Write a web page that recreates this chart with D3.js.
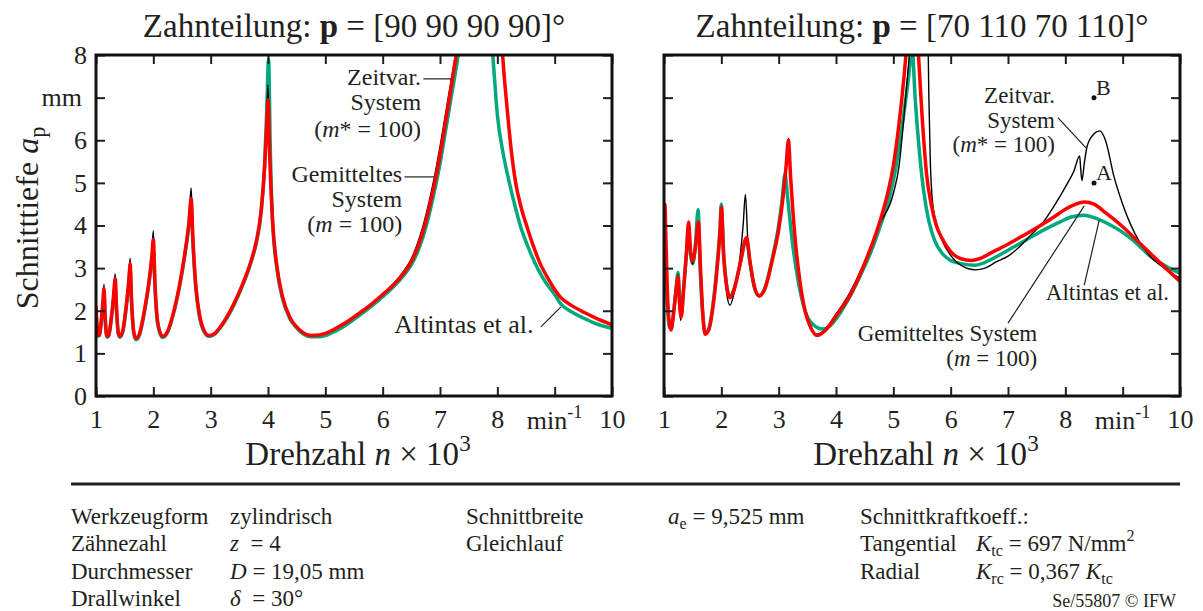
<!DOCTYPE html>
<html>
<head>
<meta charset="utf-8">
<script src="https://cdn.jsdelivr.net/npm/d3@7"></script>
<style>
  body { margin: 0; background: #fff; }
  text { font-family: "Liberation Serif", "Times New Roman", serif; fill: #231f20; white-space: pre; }
</style>
</head>
<body>
<script>
// tick values
var xTicks = [1, 2, 3, 4, 5, 6, 7, 8, 9, 10];
var yTicks = [0, 1, 2, 3, 4, 5, 6, 7, 8];
var pitches = ["90 90 90 90", "70 110 70 110"];

// left panel, p = [90 90 90 90]   [n x 10^3, a_p in mm]
var leftGreen = [[1.00,2.0],[1.015,1.65],[1.035,1.4],[1.06,1.42],[1.09,1.7],[1.12,2.1],[1.14,2.38],[1.16,1.8],[1.19,1.38],[1.22,1.4],[1.26,1.72],[1.30,2.2],[1.335,2.62],[1.36,1.95],[1.39,1.45],[1.42,1.38],[1.47,1.52],[1.53,2.1],[1.575,2.7],[1.595,2.98],[1.62,2.2],[1.66,1.45],[1.70,1.32],[1.76,1.44],[1.85,2.0],[1.93,2.7],[1.975,3.15],[2.0,3.4],[2.03,2.5],[2.08,1.65],[2.16,1.37],[2.25,1.5],[2.35,1.92],[2.45,2.52],[2.55,3.3],[2.62,4.0],[2.66,4.5],[2.69,3.6],[2.74,2.55],[2.8,1.9],[2.88,1.52],[2.97,1.40],[3.05,1.43],[3.2,1.66],[3.4,2.12],[3.55,2.57],[3.7,3.12],[3.8,3.62],[3.88,4.3],[3.94,5.4],[3.98,6.8],[4.01,7.9],[4.04,5.8],[4.08,4.1],[4.16,2.95],[4.25,2.3],[4.38,1.82],[4.5,1.6],[4.62,1.45],[4.75,1.39],[4.9,1.39],[5.0,1.42],[5.2,1.54],[5.4,1.7],[5.6,1.9],[5.8,2.1],[6.0,2.33],[6.2,2.58],[6.35,2.8],[6.5,3.08],[6.6,3.35],[6.7,3.72],[6.8,4.2],[6.9,4.78],[7.0,5.45],[7.1,6.25],[7.2,7.05],[7.3,7.85],[7.45,9.4],[7.7,11],[7.85,9.0],[7.92,8.0],[8.0,6.6],[8.1,5.7],[8.2,5.06],[8.3,4.5],[8.4,4.0],[8.55,3.45],[8.7,3.0],[8.85,2.65],[9.0,2.38],[9.1,2.17],[9.3,1.97],[9.5,1.83],[9.66,1.73],[10.0,1.59]];
var leftBlack = [[1.00,2.12],[1.015,1.7],[1.035,1.42],[1.06,1.44],[1.09,1.78],[1.12,2.25],[1.14,2.62],[1.16,1.85],[1.19,1.40],[1.22,1.42],[1.26,1.78],[1.30,2.35],[1.335,2.87],[1.36,2.0],[1.39,1.48],[1.42,1.40],[1.47,1.55],[1.53,2.2],[1.575,2.85],[1.595,3.23],[1.62,2.25],[1.66,1.5],[1.70,1.35],[1.76,1.47],[1.85,2.05],[1.93,2.8],[1.975,3.4],[2.0,3.88],[2.03,2.6],[2.08,1.7],[2.16,1.40],[2.25,1.52],[2.35,1.95],[2.45,2.55],[2.55,3.4],[2.62,4.15],[2.66,4.88],[2.69,3.7],[2.74,2.6],[2.8,1.95],[2.88,1.55],[2.97,1.42],[3.05,1.45],[3.2,1.68],[3.4,2.15],[3.55,2.6],[3.7,3.15],[3.8,3.68],[3.88,4.4],[3.94,5.45],[3.98,6.6],[4.0,7.3],[4.03,5.6],[4.08,4.1],[4.16,3.0],[4.25,2.35],[4.38,1.85],[4.5,1.62],[4.62,1.48],[4.75,1.42],[4.9,1.43],[5.0,1.47],[5.2,1.6],[5.4,1.76],[5.6,1.95],[5.8,2.15],[6.0,2.4],[6.2,2.65],[6.35,2.9],[6.5,3.22],[6.6,3.55],[6.7,3.97],[6.8,4.5],[6.9,5.12],[7.0,5.85],[7.1,6.65],[7.2,7.45],[7.28,8.1],[7.4,9.5],[7.7,11],[8.0,9.2],[8.08,8.2],[8.12,7.5],[8.16,6.9],[8.24,5.8],[8.32,5.0],[8.42,4.4],[8.52,3.96],[8.62,3.55],[8.75,3.1],[8.9,2.72],[9.0,2.5],[9.1,2.32],[9.3,2.12],[9.5,1.97],[9.7,1.84],[10.0,1.67]];
var leftRed = [[1.00,2.12],[1.015,1.7],[1.035,1.42],[1.06,1.44],[1.09,1.75],[1.12,2.2],[1.14,2.52],[1.16,1.85],[1.19,1.40],[1.22,1.42],[1.26,1.75],[1.30,2.25],[1.335,2.75],[1.36,2.0],[1.39,1.48],[1.42,1.40],[1.47,1.55],[1.53,2.15],[1.575,2.75],[1.595,3.1],[1.62,2.25],[1.66,1.5],[1.70,1.35],[1.76,1.47],[1.85,2.05],[1.93,2.75],[1.975,3.3],[2.0,3.67],[2.03,2.6],[2.08,1.7],[2.16,1.40],[2.25,1.52],[2.35,1.95],[2.45,2.55],[2.55,3.35],[2.62,4.05],[2.66,4.63],[2.69,3.7],[2.74,2.6],[2.8,1.95],[2.88,1.55],[2.97,1.42],[3.05,1.45],[3.2,1.68],[3.4,2.15],[3.55,2.6],[3.7,3.15],[3.8,3.65],[3.88,4.35],[3.94,5.35],[3.98,6.4],[4.0,6.95],[4.03,5.6],[4.08,4.1],[4.16,3.0],[4.25,2.35],[4.38,1.85],[4.5,1.62],[4.62,1.48],[4.75,1.42],[4.9,1.43],[5.0,1.47],[5.2,1.6],[5.4,1.76],[5.6,1.95],[5.8,2.15],[6.0,2.38],[6.2,2.62],[6.35,2.85],[6.5,3.15],[6.6,3.45],[6.7,3.85],[6.8,4.35],[6.9,4.95],[7.0,5.65],[7.1,6.45],[7.2,7.3],[7.3,8.15],[7.45,9.6],[7.7,11],[8.0,9.2],[8.08,8.2],[8.12,7.5],[8.16,6.9],[8.24,5.8],[8.32,5.0],[8.42,4.4],[8.52,3.96],[8.62,3.55],[8.75,3.1],[8.9,2.72],[9.0,2.5],[9.1,2.32],[9.3,2.12],[9.5,1.97],[9.7,1.84],[10.0,1.67]];

// right panel, p = [70 110 70 110]
var rightGreen = [[1.0,2.7],[1.02,3.2],[1.04,2.6],[1.07,1.9],[1.1,1.6],[1.13,1.6],[1.17,2.0],[1.21,2.5],[1.245,2.9],[1.27,2.3],[1.3,1.9],[1.34,2.5],[1.39,3.3],[1.43,3.95],[1.46,3.35],[1.5,3.1],[1.55,3.6],[1.595,4.37],[1.63,3.0],[1.68,1.85],[1.72,1.47],[1.78,1.57],[1.86,2.2],[1.94,3.3],[1.98,4.0],[2.0,4.5],[2.04,3.35],[2.09,2.62],[2.15,2.33],[2.22,2.5],[2.32,3.05],[2.44,3.65],[2.5,3.12],[2.58,2.53],[2.66,2.35],[2.75,2.5],[2.9,3.3],[3.0,4.0],[3.06,4.6],[3.11,5.2],[3.16,4.6],[3.24,3.6],[3.34,2.7],[3.46,2.0],[3.58,1.7],[3.77,1.57],[3.9,1.65],[4.05,1.9],[4.24,2.33],[4.45,2.9],[4.6,3.35],[4.8,4.1],[4.95,4.75],[5.05,5.4],[5.15,6.3],[5.25,7.3],[5.33,8.1],[5.38,7.0],[5.45,5.8],[5.53,4.8],[5.62,4.1],[5.72,3.65],[5.85,3.35],[6.0,3.18],[6.2,3.1],[6.43,3.07],[6.7,3.2],[7.0,3.42],[7.3,3.65],[7.6,3.88],[7.9,4.08],[8.1,4.2],[8.32,4.24],[8.55,4.16],[8.8,4.0],[9.0,3.84],[9.25,3.57],[9.48,3.28],[9.75,3.05],[10.0,2.88]];
var rightBlack = [[1.0,2.55],[1.02,3.0],[1.04,2.7],[1.07,2.0],[1.1,1.62],[1.13,1.62],[1.17,2.0],[1.21,2.5],[1.245,2.85],[1.27,2.1],[1.29,1.77],[1.34,2.5],[1.39,3.3],[1.43,3.75],[1.46,3.3],[1.5,3.1],[1.55,3.5],[1.6,4.05],[1.64,2.9],[1.68,1.85],[1.72,1.45],[1.78,1.55],[1.86,2.15],[1.94,3.2],[1.98,3.85],[2.0,4.4],[2.04,3.2],[2.09,2.45],[2.15,2.13],[2.22,2.4],[2.32,3.2],[2.38,4.0],[2.42,4.73],[2.46,3.7],[2.52,2.9],[2.58,2.5],[2.66,2.33],[2.75,2.48],[2.9,3.25],[3.0,3.9],[3.08,4.7],[3.13,5.45],[3.17,6.05],[3.21,5.1],[3.28,3.8],[3.36,2.8],[3.46,2.0],[3.56,1.62],[3.67,1.45],[3.8,1.55],[4.0,1.92],[4.24,2.42],[4.45,3.0],[4.6,3.5],[4.75,4.0],[5.0,4.75],[5.1,5.4],[5.18,6.47],[5.28,8.0],[5.4,9.5],[5.6,8.6],[5.62,7.0],[5.645,5.5],[5.68,4.6],[5.75,4.05],[5.85,3.65],[6.0,3.3],[6.2,3.05],[6.43,2.96],[6.6,3.0],[6.8,3.15],[7.0,3.28],[7.2,3.5],[7.4,3.78],[7.6,4.05],[7.8,4.45],[8.0,4.9],[8.15,5.28],[8.25,5.63],[8.27,5.3],[8.29,5.05],[8.33,5.45],[8.38,5.86],[8.5,6.15],[8.6,6.22],[8.7,6.0],[8.85,5.14],[9.0,4.5],[9.13,4.05],[9.3,3.6],[9.5,3.25],[9.75,2.98],[10.0,2.76]];
var rightRed = [[1.0,4.1],[1.015,4.5],[1.035,3.6],[1.06,2.4],[1.09,1.75],[1.12,1.55],[1.16,1.85],[1.2,2.35],[1.245,2.8],[1.27,2.2],[1.3,1.85],[1.34,2.45],[1.39,3.35],[1.43,4.08],[1.46,3.45],[1.5,3.16],[1.55,3.5],[1.6,4.08],[1.64,2.9],[1.68,1.85],[1.72,1.45],[1.78,1.55],[1.86,2.15],[1.94,3.2],[1.98,3.9],[2.0,4.43],[2.04,3.3],[2.09,2.6],[2.15,2.31],[2.22,2.48],[2.32,3.05],[2.44,3.72],[2.5,3.15],[2.58,2.55],[2.66,2.35],[2.75,2.48],[2.9,3.25],[3.0,3.9],[3.08,4.7],[3.13,5.4],[3.17,6.0],[3.21,5.1],[3.28,3.8],[3.36,2.8],[3.46,2.0],[3.56,1.6],[3.67,1.42],[3.8,1.52],[4.0,1.88],[4.24,2.35],[4.45,2.95],[4.6,3.45],[4.78,4.16],[4.9,4.75],[5.0,5.4],[5.1,6.4],[5.18,7.4],[5.24,8.3],[5.35,10],[5.43,8.2],[5.5,6.6],[5.58,5.2],[5.66,4.5],[5.75,4.0],[5.85,3.7],[5.95,3.48],[6.05,3.32],[6.18,3.22],[6.36,3.18],[6.5,3.22],[6.72,3.37],[7.0,3.56],[7.26,3.76],[7.53,3.97],[7.8,4.2],[8.0,4.38],[8.18,4.5],[8.33,4.55],[8.5,4.5],[8.7,4.3],[9.0,3.97],[9.25,3.65],[9.48,3.35],[9.75,3.0],[10.0,2.69]];

// marked points in the right panel
var markPoints = [{name: "B", n: 8.5, a: 7.0}, {name: "A", n: 8.5, a: 5.0}];

var colors = ["#00a87d", "#000", "#ff0000"];
var widths = [3.5, 1.4, 3.5];

var svg = d3.select("body").append("svg")
    .attr("width", 1203)
    .attr("height", 611);

var y = d3.scaleLinear().domain([0, 8]).range([396, 55]);

// text with italic / bold / sub / sup pieces
function rich(sel, parts, size) {
    var shift = 0;
    parts.forEach(function(p) {
        if (typeof p === "string") p = [p, ""];
        var st = p[1].split(" ");
        var ts = sel.append("tspan").text(p[0]);
        var target = 0;
        if (st.includes("sub")) { target = 0.22 * size; ts.attr("font-size", size * 0.7); }
        if (st.includes("sup")) { target = -0.42 * size; ts.attr("font-size", size * 0.7); }
        if (st.includes("i")) ts.style("font-style", "italic");
        if (st.includes("b")) ts.style("font-weight", "bold");
        if (target !== shift) ts.attr("dy", target - shift);
        shift = target;
    });
    return sel;
}

function label(g, x, yy, parts, size, anchor) {
    var t = g.append("text")
        .attr("x", x).attr("y", yy)
        .attr("font-size", size)
        .attr("text-anchor", anchor || "start");
    return rich(t, parts, size);
}

var panels = [
    {x0: 96, x1: 612, series: [leftGreen, leftBlack, leftRed], yLabels: true},
    {x0: 664, x1: 1180, series: [rightGreen, rightBlack, rightRed], yLabels: false}
];

panels.forEach(function(p, i) {
    var x = d3.scaleLinear().domain([1, 10]).range([p.x0, p.x1]);
    p.x = x;
    var g = svg.append("g");

    g.append("clipPath").attr("id", "clip" + i)
        .append("rect")
        .attr("x", p.x0).attr("y", y(8))
        .attr("width", p.x1 - p.x0).attr("height", y(0) - y(8));

    var line = d3.line()
        .x(function(d) { return x(d[0]); })
        .y(function(d) { return y(d[1]); })
        .curve(d3.curveMonotoneX);

    p.series.forEach(function(s, k) {
        g.append("path")
            .datum(s)
            .attr("d", line)
            .attr("clip-path", "url(#clip" + i + ")")
            .attr("fill", "none")
            .attr("stroke", colors[k])
            .attr("stroke-width", widths[k])
            .attr("stroke-linejoin", "round");
    });

    // axes, ticks pointing inwards
    var axB = g.append("g").attr("transform", "translate(0," + y(0) + ")")
        .call(d3.axisBottom(x).tickValues(xTicks).tickSize(-9).tickSizeOuter(0).tickPadding(14)
            .tickFormat(function(d) { return d === 9 ? "" : d; }));
    var axT = g.append("g").attr("transform", "translate(0," + y(8) + ")")
        .call(d3.axisTop(x).tickValues(xTicks).tickSize(-9).tickSizeOuter(0).tickFormat(""));
    var axL = g.append("g").attr("transform", "translate(" + p.x0 + ",0)")
        .call(d3.axisLeft(y).tickValues(yTicks).tickSize(-9).tickSizeOuter(0).tickPadding(9)
            .tickFormat(function(d) { return p.yLabels ? (d === 7 ? "mm" : d) : ""; }));
    var axR = g.append("g").attr("transform", "translate(" + p.x1 + ",0)")
        .call(d3.axisRight(y).tickValues(yTicks).tickSize(-9).tickSizeOuter(0).tickFormat(""));

    [axB, axT, axL, axR].forEach(function(a) {
        a.attr("font-family", null).attr("font-size", null);
        a.select(".domain").remove();
        a.selectAll("line").attr("stroke", "#231f20").attr("stroke-width", 2);
        a.selectAll("text").attr("font-size", 26).attr("fill", "#231f20");
    });
    axL.selectAll("text").filter(function(d) { return d === 7; }).attr("dx", -5);

    // min^-1 in place of the 9
    label(g, x(9), y(0) + 33, ["min", ["-1", "sup"]], 26, "middle");

    g.append("rect")
        .attr("x", p.x0).attr("y", y(8))
        .attr("width", p.x1 - p.x0).attr("height", y(0) - y(8))
        .attr("fill", "none")
        .attr("stroke", "#111")
        .attr("stroke-width", 3);

    var cx = (p.x0 + p.x1) / 2;
    label(g, cx, 37, ["Zahnteilung: ", ["p", "b"], " = [" + pitches[i] + "]°"], 33, "middle");
    label(g, cx + 4, 465, ["Drehzahl ", ["n", "i"], " × 10", ["3", "sup"]], 33, "middle");
});

// y axis title
var yt = svg.append("text")
    .attr("transform", "translate(38,218) rotate(-90)")
    .attr("font-size", 32)
    .attr("text-anchor", "middle");
rich(yt, ["Schnitttiefe ", ["a", "i"], ["p", "sub"]], 32);

function leader(g, x, a, b) {
    g.append("line")
        .attr("x1", x(a[0])).attr("y1", y(a[1]))
        .attr("x2", x(b[0])).attr("y2", y(b[1]))
        .attr("stroke", "#231f20").attr("stroke-width", 1.2);
}

// annotations left
var xl = panels[0].x, xr = panels[1].x;
var ga = svg.append("g");
var fsL = 24, fsR = 23;
label(ga, xl(6.67), y(7.3), ["Zeitvar."], fsL, "end");
label(ga, xl(6.67), y(6.72), ["System"], fsL, "end");
label(ga, xl(6.67), y(6.08), ["(", ["m", "i"], "* = 100)"], fsL, "end");
leader(ga, xl, [6.71, 7.44], [7.2, 7.44]);
label(ga, xl(6.34), y(5.02), ["Gemitteltes"], fsL, "end");
label(ga, xl(6.34), y(4.44), ["System"], fsL, "end");
label(ga, xl(6.34), y(3.85), ["(", ["m", "i"], " = 100)"], fsL, "end");
leader(ga, xl, [6.38, 5.14], [6.9, 5.14]);
label(ga, xl(6.2), y(1.48), ["Altintas et al."], 26, "start");
leader(ga, xl, [8.76, 1.62], [9.11, 2.09]);

// annotations right
label(ga, xr(7.82), y(6.88), ["Zeitvar."], fsR, "end");
label(ga, xr(7.82), y(6.29), ["System"], fsR, "end");
label(ga, xr(7.82), y(5.73), ["(", ["m", "i"], "* = 100)"], fsR, "end");
leader(ga, xr, [7.87, 6.53], [8.36, 5.82]);
label(ga, xr(7.51), y(1.29), ["Gemitteltes System"], fsR, "end");
label(ga, xr(7.51), y(0.7), ["(", ["m", "i"], " = 100)"], fsR, "end");
leader(ga, xr, [7.0, 1.71], [8.33, 4.46]);
label(ga, xr(7.66), y(2.25), ["Altintas et al."], fsR, "start");
leader(ga, xr, [8.33, 2.6], [8.59, 4.12]);

markPoints.forEach(function(m) {
    ga.append("circle").attr("cx", xr(m.n)).attr("cy", y(m.a)).attr("r", 2.5).attr("fill", "#111");
    label(ga, xr(m.n) + 2, y(m.a) - 3, [m.name], 22, "start");
});

// parameter table
svg.append("line")
    .attr("x1", 71).attr("x2", 1180)
    .attr("y1", 484).attr("y2", 484)
    .attr("stroke", "#231f20").attr("stroke-width", 3);

var rowY = [524, 551, 579, 606];
var tableCells = [
    [71, 0, ["Werkzeugform"]], [71, 1, ["Zähnezahl"]], [71, 2, ["Durchmesser"]], [71, 3, ["Drallwinkel"]],
    [230, 0, ["zylindrisch"]], [230, 1, [["z", "i"], "  = 4"]], [230, 2, [["D", "i"], " = 19,05 mm"]], [230, 3, [["δ", "i"], "  = 30°"]],
    [466, 0, ["Schnittbreite"]], [466, 1, ["Gleichlauf"]],
    [668, 0, [["a", "i"], ["e", "sub"], " = 9,525 mm"]],
    [860, 0, ["Schnittkraftkoeff.:"]], [860, 1, ["Tangential"]], [860, 2, ["Radial"]],
    [976, 1, [["K", "i"], ["tc", "sub"], " = 697 N/mm", ["2", "sup"]]],
    [976, 2, [["K", "i"], ["rc", "sub"], " = 0,367 ", ["K", "i"], ["tc", "sub"]]]
];
tableCells.forEach(function(c) {
    label(svg, c[0], rowY[c[1]], c[2], 23, "start");
});
label(svg, 1176, 607, ["Se/55807 © IFW"], 18, "end");
</script>
</body>
</html>
